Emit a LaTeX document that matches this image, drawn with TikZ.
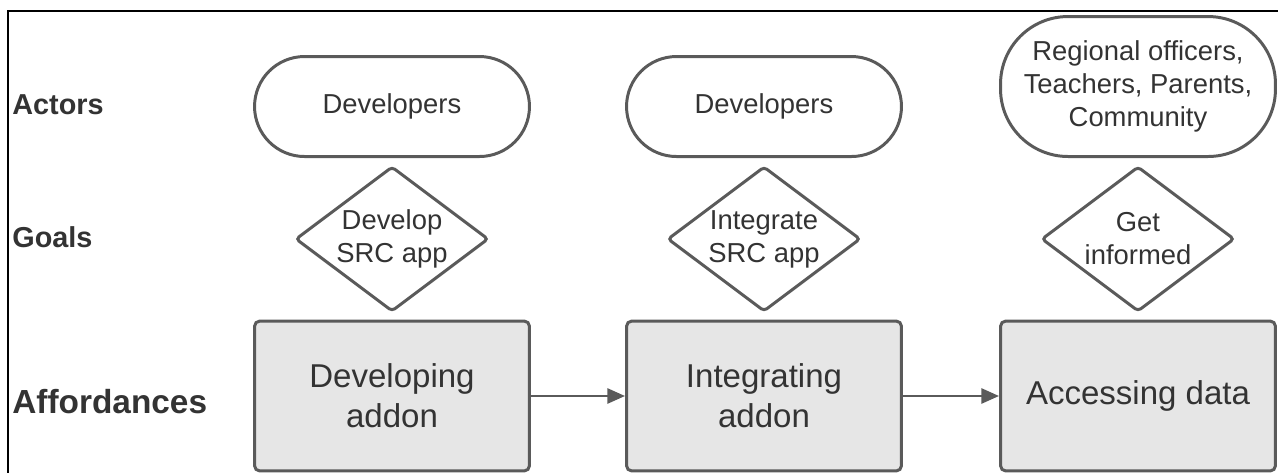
\documentclass[tikz,border=0pt]{standalone}
\usepackage{fontspec}
\setmainfont{Liberation Sans}
\usetikzlibrary{shapes.geometric,arrows.meta}
\definecolor{edgegray}{HTML}{5A5A5A}
\definecolor{boxgray}{HTML}{E6E6E6}
\definecolor{txtgray}{HTML}{333333}
\begin{document}
\begin{tikzpicture}[x=0.02cm,y=-0.02cm,
	actor/.style={draw=edgegray,line width=1.7pt,rounded corners=1cm,minimum width=5.5cm,minimum height=2cm,align=center,text=txtgray,font=\fontsize{15.6}{18.8}\selectfont},
	goal/.style={draw=edgegray,line width=1.7pt,diamond,aspect=1.33,inner sep=0pt,rounded corners=2pt,minimum width=3.86cm,minimum height=2.9cm,align=center,text=txtgray,font=\fontsize{15.6}{18.8}\selectfont},
	afford/.style={draw=edgegray,fill=boxgray,line width=1.7pt,rounded corners=3pt,minimum width=5.5cm,minimum height=3cm,align=center,text=txtgray,font=\fontsize{18.8}{22.8}\selectfont},
	rowlabel/.style={anchor=west,inner sep=0pt,text=txtgray,font=\bfseries\fontsize{16.4}{19}\selectfont},
	flow/.style={draw=edgegray,line width=1.5pt,-{Triangle[length=10pt,width=8.5pt]}}]
			\useasboundingbox (0,0) rectangle (1278,473);
			\draw[black,line width=1.2pt] (8,11) rectangle (1300,500);
			% row labels
			\node[rowlabel] (lactors) at (12,105) {Actors};
			\node[rowlabel] (lgoals) at (12,237) {Goals};
			\node[rowlabel,font=\bfseries\fontsize{19}{22}\selectfont] (lafford) at (12,402) {Affordances};
			% actors
			\node[actor,anchor=south] (a1) at (392,158) {Developers};
			\node[actor,anchor=south] (a2) at (764,158) {Developers};
			\node[actor,anchor=south,minimum height=2.8cm,rounded corners=1.35cm] (a3) at (1138,158) {Regional officers,\\Teachers, Parents,\\Community};
			% goals
			\node[goal] (g1) at (392,239) {Develop\\SRC app};
			\node[goal] (g2) at (764,239) {Integrate\\SRC app};
			\node[goal] (g3) at (1138,239) {Get\\informed};
			% affordances
			\node[afford] (f1) at (392,396) {Developing\\addon};
			\node[afford] (f2) at (764,396) {Integrating\\addon};
			\node[afford] (f3) at (1138,396) {Accessing data};
			\draw[flow] (f1) -- (f2);
			\draw[flow] (f2) -- (f3);
		\end{tikzpicture}
\end{document}
